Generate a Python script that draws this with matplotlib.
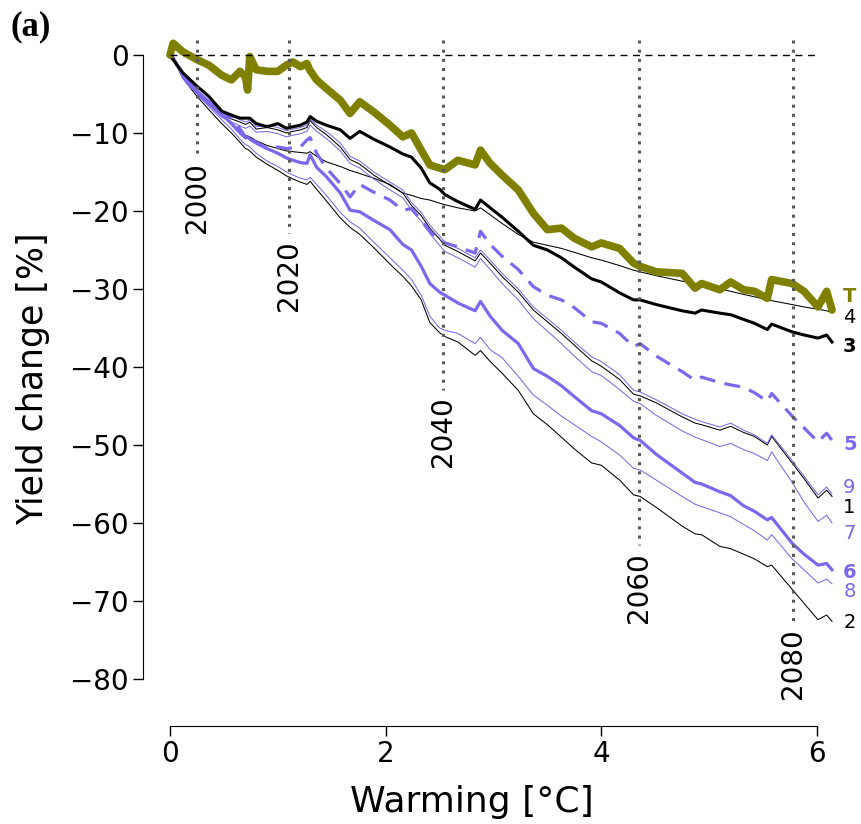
import matplotlib.pyplot as plt

# warming level [°C] for each year of the run (shared by all series)
warming = [0.00, 0.03, 0.12, 0.25, 0.36, 0.48, 0.57, 0.65, 0.70, 0.72, 0.74, 0.80, 0.90, 1.00,
           1.08, 1.14, 1.21, 1.27, 1.30, 1.36, 1.45, 1.58, 1.67, 1.76, 1.89, 2.04, 2.16, 2.24,
           2.33, 2.41, 2.50, 2.55, 2.67, 2.83, 2.88, 2.97, 3.08, 3.23, 3.37, 3.50, 3.63, 3.75,
           3.91, 4.00, 4.17, 4.30, 4.36, 4.51, 4.75, 4.87, 4.93, 5.10, 5.20, 5.32, 5.42, 5.54,
           5.58, 5.77, 5.88, 6.01, 6.09, 6.14]

# yield change [%]
yT = [0.0, 1.5, 0.4, -0.6, -1.3, -2.6, -3.2, -2.1, -2.8, -4.5, -0.2, -1.9, -2.1, -2.1,
      -1.3, -0.9, -1.5, -1.1, -2.0, -3.2, -4.3, -5.8, -7.5, -6.0, -7.3, -9.0, -10.5, -10.0,
      -12.2, -14.1, -14.5, -14.7, -13.5, -14.1, -12.2, -13.9, -15.4, -17.3, -20.3, -22.4, -22.2, -23.5,
      -24.6, -24.1, -24.8, -26.7, -27.1, -27.8, -28.0, -29.9, -29.3, -30.1, -29.1, -30.1, -30.3, -31.2,
      -28.8, -29.3, -30.3, -32.3, -30.3, -32.7]
y3 = [-0.2, -0.6, -2.3, -4.0, -5.3, -7.2, -7.7, -8.1, -8.1, -8.1, -8.1, -8.8, -9.2, -8.8,
      -9.4, -9.2, -9.0, -8.6, -7.9, -8.5, -9.0, -9.6, -10.7, -9.8, -10.8, -11.8, -12.7, -13.1,
      -14.5, -16.4, -17.2, -17.9, -18.8, -19.8, -18.6, -19.6, -20.8, -22.6, -24.4, -25.0, -26.0, -27.2,
      -28.7, -29.1, -30.5, -31.4, -31.4, -32.0, -32.8, -33.1, -32.7, -33.1, -33.3, -33.9, -34.4, -35.2,
      -34.5, -35.5, -35.9, -36.3, -35.9, -36.8]
y4 = [0.0, -0.5, -2.4, -4.6, -6.2, -7.8, -8.7, -9.8, -10.3, -10.4, -10.5, -11.0, -11.6, -12.0,
      -12.3, -12.4, -12.5, -12.6, -12.4, -13.0, -13.7, -14.3, -14.8, -15.2, -15.8, -16.6, -17.7, -18.0,
      -18.4, -18.6, -19.0, -19.2, -19.6, -20.0, -19.6, -20.5, -21.6, -23.0, -24.0, -24.4, -24.8, -25.3,
      -26.0, -26.3, -27.0, -27.6, -27.8, -28.3, -29.0, -29.3, -29.5, -30.0, -30.3, -30.7, -31.0, -31.4,
      -31.5, -32.0, -32.3, -32.6, -32.8, -33.0]
y5 = [0.3, -0.4, -2.8, -5.0, -6.2, -7.5, -8.0, -9.5, -10.5, -10.9, -10.5, -11.2, -12.0, -11.8,
      -12.0, -11.9, -11.8, -10.9, -10.6, -12.6, -14.5, -16.5, -18.2, -16.6, -17.6, -18.6, -19.9, -19.7,
      -21.2, -22.6, -23.8, -24.1, -24.6, -25.4, -22.6, -24.3, -25.8, -27.5, -29.7, -30.8, -31.4, -32.4,
      -34.2, -34.4, -35.7, -37.4, -37.0, -38.6, -40.6, -41.7, -41.3, -42.0, -42.3, -42.6, -43.3, -44.4,
      -43.4, -46.3, -47.8, -49.6, -48.5, -49.4]
y9 = [0.5, -0.3, -2.6, -4.5, -5.8, -7.4, -7.9, -8.3, -8.6, -8.5, -8.3, -9.2, -9.0, -9.3,
      -9.7, -9.5, -9.3, -9.0, -8.2, -9.0, -9.8, -11.3, -13.0, -13.6, -15.0, -16.3, -17.3, -18.9,
      -20.2, -21.8, -23.2, -24.0, -24.8, -26.0, -25.0, -26.3, -28.0, -30.0, -32.3, -33.8, -35.3, -36.8,
      -38.7, -39.3, -41.0, -43.0, -43.2, -44.2, -46.0, -46.7, -47.0, -47.7, -47.2, -48.1, -48.7, -49.8,
      -48.7, -52.0, -54.0, -56.4, -55.4, -56.3]
y1 = [0.0, -0.5, -2.8, -4.8, -6.1, -7.7, -8.2, -8.6, -8.9, -8.8, -8.6, -9.5, -9.3, -9.6,
      -10.0, -9.8, -9.6, -9.3, -8.4, -9.3, -10.2, -11.8, -13.4, -14.0, -15.4, -16.7, -17.7, -19.3,
      -20.6, -22.2, -23.6, -24.4, -25.2, -26.4, -25.4, -26.7, -28.4, -30.4, -32.7, -34.2, -35.7, -37.2,
      -39.2, -39.9, -41.6, -43.5, -43.7, -44.6, -46.4, -47.2, -47.4, -48.1, -47.6, -48.4, -48.9, -50.0,
      -48.9, -52.3, -54.3, -56.8, -55.8, -56.6]
y7 = [0.5, -0.6, -2.9, -5.0, -6.4, -8.0, -8.6, -9.1, -9.4, -9.3, -9.1, -9.9, -9.8, -10.1,
      -10.5, -10.3, -10.1, -9.8, -9.0, -9.8, -10.7, -12.3, -13.9, -14.5, -15.9, -17.3, -18.3, -19.9,
      -21.3, -22.9, -24.4, -25.2, -26.0, -27.2, -26.1, -27.5, -29.3, -31.4, -33.8, -35.4, -37.0, -38.6,
      -40.6, -41.1, -42.9, -44.4, -44.7, -46.2, -48.2, -49.0, -49.3, -50.2, -49.8, -50.6, -51.1, -52.0,
      -50.9, -54.8, -57.3, -59.8, -59.0, -60.0]
y6 = [0.5, -0.4, -2.6, -4.6, -6.0, -7.6, -8.8, -10.0, -10.6, -10.5, -10.8, -11.3, -12.0, -12.6,
      -13.2, -13.5, -13.8, -13.9, -12.8, -14.4, -15.6, -17.7, -19.9, -20.1, -21.2, -22.4, -24.3, -25.0,
      -27.1, -29.3, -30.4, -30.8, -31.8, -32.8, -31.6, -33.5, -35.3, -37.0, -40.2, -41.2, -42.4, -43.8,
      -45.6, -46.0, -47.5, -49.1, -49.4, -51.2, -53.6, -54.8, -55.0, -56.0, -56.5, -57.8, -58.5, -59.6,
      -59.3, -62.6, -64.0, -65.4, -65.2, -66.0]
y8 = [0.5, -0.4, -2.8, -5.0, -6.6, -8.3, -9.5, -10.8, -11.5, -11.6, -11.8, -12.6, -13.6, -14.3,
      -15.0, -15.4, -15.8, -16.0, -15.7, -16.6, -18.0, -20.2, -21.4, -22.2, -24.0, -26.0, -27.6, -28.8,
      -30.8, -33.5, -35.0, -35.3, -35.7, -37.0, -36.2, -37.8, -38.8, -41.2, -43.6, -44.9, -46.3, -47.4,
      -48.9, -49.6, -51.3, -53.0, -53.2, -54.5, -56.6, -57.6, -57.9, -58.7, -59.2, -60.2, -61.0, -62.2,
      -61.5, -64.6, -66.0, -67.7, -67.2, -67.8]
y2 = [0.3, -0.5, -3.0, -5.3, -7.0, -8.8, -10.0, -11.2, -12.0, -12.1, -12.3, -13.1, -14.0, -14.8,
      -15.5, -15.9, -16.3, -16.6, -16.2, -17.2, -18.7, -20.9, -22.1, -23.0, -24.7, -26.8, -28.4, -29.6,
      -31.4, -34.3, -35.6, -36.1, -36.8, -38.5, -37.9, -39.3, -40.8, -43.0, -46.0, -47.4, -49.0, -50.5,
      -52.3, -52.6, -54.5, -56.4, -56.6, -58.0, -60.4, -61.4, -61.5, -63.0, -63.3, -64.0, -64.6, -65.6,
      -65.4, -68.5, -70.3, -72.4, -71.8, -72.6]

# years marked along the warming axis
years = ['2000', '2020', '2040', '2060', '2080']
year_warming = [0.255, 1.107, 2.535, 4.354, 5.78]

purple = '#7B68EE'
olive = '#808000'

fig = plt.figure(figsize=(8.62, 8.24), dpi=100)
ax = fig.add_axes([0.1659, 0.1192, 0.8256, 0.8425])

# thin lines
for y, c in [(y4, 'black'), (y2, 'black'), (y8, purple), (y1, 'black'), (y7, purple), (y9, purple)]:
    ax.plot(warming, y, color=c, lw=0.75, solid_joinstyle='round')
ax.plot(warming, y6, color=purple, lw=2.3, solid_joinstyle='round')
ax.plot(warming, y5, color=purple, lw=2.3, dashes=(5, 3))
ax.plot(warming, y3, color='black', lw=2.2, solid_joinstyle='round')
ax.plot(warming, yT, color=olive, lw=5.5, solid_joinstyle='round', solid_capstyle='round')

ax.hlines(0, 0, 6, colors='black', lw=1.0, linestyles=(0, (5, 4)))

# year markers
label_top = [-13.8, -23.7, -43.8, -63.7, -73.5]
for yr, xw, yt in zip(years, year_warming, label_top):
    ax.plot([xw, xw], [1.9, yt + 0.9], color='0.35', lw=2.2, linestyle=(0, (1, 2)),
            dash_capstyle='butt')
    ax.text(xw, yt, yr, rotation=90, ha='center', va='top', fontsize=20)

# series labels at the right end
labels = ['T', '4', '3', '5', '9', '1', '7', '6', '8', '2']
label_y = [-31.0, -33.7, -37.4, -50.0, -55.4, -58.0, -61.3, -66.3, -68.8, -72.8]
label_col = [olive, 'black', 'black', purple, purple, 'black', purple, purple, purple, 'black']
label_bold = [True, False, True, True, False, False, False, True, False, False]
for lab, ly, lc, lb in zip(labels, label_y, label_col, label_bold):
    ax.text(6.243, ly, lab, color=lc, fontsize=14, ha='left', va='center',
            fontweight='bold' if lb else 'normal', clip_on=False)

ax.set_xlim(-0.25, 6.35)
ax.set_ylim(-86, 3)
ax.spines['top'].set_visible(False)
ax.spines['right'].set_visible(False)
ax.spines['left'].set_bounds(-80, 0)
ax.spines['bottom'].set_bounds(0, 6)
ax.set_xticks([0, 2, 4, 6])
ax.set_yticks([0, -10, -20, -30, -40, -50, -60, -70, -80])
ax.tick_params(labelsize=20, length=7, width=1, pad=3)
ax.set_xlabel('Warming [°C]', fontsize=26)
ax.set_ylabel('Yield change [%]', fontsize=25)
ax.xaxis.set_label_coords(0.462, -0.085)
ax.yaxis.set_label_coords(-0.13, 0.5)

fig.text(0.012, 0.988, '(a)', fontsize=25, fontweight='bold', family='Liberation Serif',
         ha='left', va='top')

fig.savefig('out.png', dpi=100)
